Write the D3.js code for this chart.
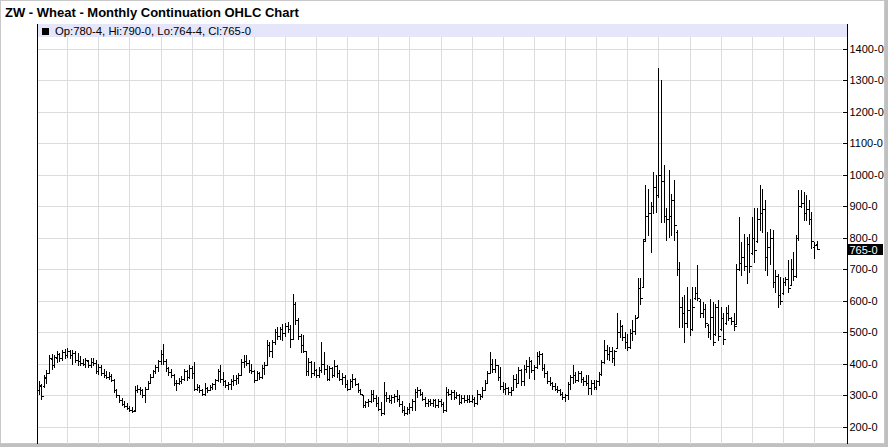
<!DOCTYPE html>
<html><head><meta charset="utf-8">
<script src="https://cdn.jsdelivr.net/npm/d3@7"></script>
<style>body{margin:0;background:#fff}svg{display:block}text{font-family:"Liberation Sans",Arial,sans-serif}</style>
</head><body><svg id="c" width="888" height="447"></svg>
<script>
// ---- data (monthly continuation, cents/bushel) ----
const startMonth = new Date(1988, 1, 1); // Feb 1988
const open = [
318,330,330,356,372,415,395,420,430,418,
438,428,442,428,435,414,408,404,400,410,
396,406,402,378,390,370,365,358,362,350,
318,300,285,274,266,260,255,254,318,322,
316,302,322,340,360,376,390,408,430,410,
386,374,366,340,338,346,352,376,360,388,
370,322,328,318,306,325,318,326,336,348,
378,352,345,332,336,345,350,355,366,405,
410,402,380,376,350,370,358,388,398,460,
440,468,500,488,510,498,520,510,480,590,
540,490,460,440,378,405,372,380,365,382,
400,385,352,388,365,392,370,352,360,335,
322,345,352,336,318,300,270,278,284,305,
292,275,258,245,300,292,285,294,298,290,
272,255,245,258,262,282,312,318,304,290,
276,282,275,285,270,284,272,255,312,305,
310,296,300,280,292,285,290,284,288,275,
305,298,318,340,372,400,385,395,360,330,
320,325,312,318,352,340,380,345,385,392,
410,382,390,425,432,388,370,345,340,330,
322,318,305,296,300,335,358,365,350,372,
352,345,340,325,340,328,345,368,405,445,
430,440,420,452,500,520,485,470,455,498,
505,550,640,645,795,870,880,900,960,935,
1000,980,870,860,870,920,818,700,580,560,
530,570,510,610,625,600,560,575,522,500,
550,495,580,510,545,530,560,545,535,528,
700,720,740,710,780,752,800,790,860,880,
890,740,770,800,660,680,620,625,660,668,
650,700,680,800,900,910,880,890,860,770,
780.5];
const high = [
345,335,364,380,427,430,428,440,436,445,
446,450,445,443,440,435,425,415,418,412,
418,418,411,401,398,385,378,374,369,353,
320,302,292,282,276,268,264,330,332,328,
322,327,345,369,380,395,411,443,464,417,
390,385,369,350,356,362,385,380,396,392,
406,335,332,322,338,327,332,340,353,385,
396,374,350,343,353,364,364,370,417,427,
427,411,400,380,378,374,395,406,475,470,
475,512,517,517,528,530,533,522,623,595,
544,494,491,442,420,410,406,385,390,470,
438,395,392,390,411,395,380,370,364,348,
353,369,356,338,322,302,284,290,316,316,
300,295,279,343,311,300,300,305,316,300,
284,268,263,275,290,322,327,322,310,294,
290,288,290,290,290,288,279,327,322,316,
316,311,306,300,300,302,300,300,295,316,
306,327,348,379,438,417,417,398,390,343,
338,327,327,364,369,390,385,395,411,422,
414,395,438,440,434,400,379,359,343,338,
330,322,311,305,343,364,395,374,379,379,
359,364,364,348,348,350,374,411,475,460,
454,454,443,560,538,522,500,496,512,538,
554,671,671,797,967,956,914,1009,998,1337,
1300,1030,893,1014,940,982,824,723,612,618,
644,607,644,644,713,606,596,591,525,607,
596,591,602,580,560,580,586,548,560,718,
866,787,813,803,813,866,893,893,967,956,
919,818,829,824,697,686,676,671,676,728,
734,755,808,951,951,945,935,919,882,787,
790];
const low = [
305,288,327,338,370,385,390,406,410,411,
420,422,418,400,405,395,395,395,390,390,
390,395,370,369,365,359,355,353,345,311,
295,279,270,262,256,250,246,252,311,306,
295,279,320,338,358,372,379,400,401,379,
364,360,332,316,335,338,348,350,355,355,
316,316,311,300,300,312,316,320,322,346,
343,332,328,322,322,332,336,340,364,390,
396,374,370,343,348,353,355,369,396,425,
422,464,480,480,475,490,501,454,478,528,
480,438,438,364,364,359,364,359,360,374,
369,348,350,359,362,359,348,335,327,316,
320,327,332,311,306,263,263,268,279,284,
268,253,237,242,284,279,276,280,284,268,
247,237,242,245,253,253,295,300,285,268,
268,270,268,263,263,268,247,252,300,290,
290,292,274,276,279,280,279,279,268,272,
290,295,316,338,370,374,374,350,322,311,
306,306,300,316,327,338,332,332,374,354,
374,353,388,401,380,360,338,332,322,316,
310,300,290,284,290,322,338,343,346,343,
332,332,306,306,322,322,332,366,404,415,
411,406,395,449,486,475,450,443,452,475,
496,549,591,644,792,808,755,877,882,929,
850,850,792,803,808,792,681,517,517,470,
517,491,507,607,602,549,549,517,486,480,
459,491,475,507,464,528,538,528,507,526,
697,681,697,655,692,750,723,787,824,818,
697,681,718,644,628,580,591,623,650,628,
649,665,676,792,898,855,855,845,766,737,
764.5];
const close = [
332,298,358,372,418,395,422,432,418,438,
428,442,428,436,414,408,404,400,412,396,
406,402,378,390,370,365,358,362,350,318,
300,285,274,266,260,255,252,318,322,316,
302,320,340,360,376,390,408,430,410,386,
374,366,340,338,346,352,376,360,388,370,
322,328,318,306,325,318,326,336,348,378,
352,345,332,336,345,350,355,366,405,410,
402,380,376,350,370,358,388,398,460,440,
468,500,488,510,498,520,510,480,590,540,
490,460,440,378,405,372,380,365,382,400,
385,352,388,365,392,370,352,360,335,322,
345,352,336,318,306,270,278,284,305,292,
275,258,245,300,292,285,294,298,290,272,
255,245,258,262,282,312,318,304,290,276,
282,275,285,270,284,272,255,312,305,310,
296,300,280,292,285,290,284,288,275,305,
298,318,340,372,400,385,395,360,330,320,
325,312,318,352,340,380,345,385,392,410,
382,390,425,432,388,370,345,340,330,322,
318,305,296,300,335,358,365,350,372,352,
345,340,325,340,328,345,368,405,445,430,
440,420,440,500,520,485,470,455,498,505,
545,640,610,790,870,880,900,960,935,1000,
980,870,860,870,920,840,700,580,560,530,
570,510,580,625,608,560,575,530,500,550,
470,580,490,545,480,560,545,535,520,700,
720,740,710,780,710,800,760,860,880,890,
740,770,800,660,680,620,600,660,668,640,
700,680,800,900,910,880,890,860,790,778,
765];
const yTickValues = [200,300,400,500,600,700,800,900,1000,1100,1200,1300,1400];
const chartTitle = "ZW - Wheat - Monthly Continuation OHLC Chart";

// ---- layout ----
const N = Math.min(open.length, high.length, low.length, close.length);
const L = 37, R = 847, T = 24, B = 444;
const svg = d3.select("#c");
const fmt8 = v => { const w = Math.floor(v); return w + "-" + Math.round((v - w) * 8); };
const months = d3.timeMonth.range(startMonth, d3.timeMonth.offset(startMonth, N));
const x = d3.scaleLinear().domain([0, 300]).range([39.2, 817.1]);
const y = d3.scaleLinear().domain([200, 1400]).range([427, 48.5]);

svg.append("rect").attr("width", 888).attr("height", 447).attr("fill", "#fff");
// outer frame
svg.append("rect").attr("x", 0.5).attr("y", 0.5).attr("width", 884).attr("height", 443)
  .attr("fill", "none").attr("stroke", "#c8c8c8");
svg.append("rect").attr("x", 885).attr("y", 0).attr("width", 3).attr("height", 447).attr("fill", "#c0c0c0");
svg.append("rect").attr("x", 0).attr("y", 444).attr("width", 888).attr("height", 3).attr("fill", "#c0c0c0");

svg.append("text").attr("x", 5).attr("y", 17).attr("font-size", 13).attr("font-weight", "bold")
  .attr("fill", "#000").text(chartTitle);

// grid
const g = svg.append("g").attr("shape-rendering", "crispEdges");
g.selectAll(".hg").data(yTickValues).join("line")
  .attr("x1", L).attr("x2", R - 5)
  .attr("y1", d => Math.round(y(d)) + 0.5).attr("y2", d => Math.round(y(d)) + 0.5)
  .attr("stroke", "#dcdcdc");
const jan = months.map((m, i) => m.getMonth() === 0 ? i : -1).filter(i => i >= 0);
g.selectAll(".vg").data(jan).join("line")
  .attr("x1", i => Math.floor(x(i)) + 0.5).attr("x2", i => Math.floor(x(i)) + 0.5)
  .attr("y1", T).attr("y2", B)
  .attr("stroke", "#dcdcdc");

// OHLC bars
const bars = svg.append("g").attr("shape-rendering", "crispEdges").attr("stroke", "#000")
  .attr("stroke-width", 1).attr("fill", "none");
bars.selectAll("path").data(d3.range(N)).join("path")
  .attr("d", i => {
    const px = Math.floor(x(i)) + 0.5;
    const yh = Math.round(y(high[i])), yl = Math.round(y(low[i]));
    const yo = Math.round(y(open[i])) + 0.5, yc = Math.round(y(close[i])) + 0.5;
    return `M${px},${yh}V${yl + 1}M${px - 2},${yo}H${px}M${px},${yc}H${px + 2}`;
  });

// legend bar
svg.append("rect").attr("x", L + 1).attr("y", T).attr("width", R - L - 1).attr("height", 13)
  .attr("fill", "#e6e6fa");
svg.append("rect").attr("x", 42).attr("y", 28).attr("width", 7).attr("height", 7).attr("fill", "#000");
const last = N - 1;
svg.append("text").attr("x", 55).attr("y", 35).attr("font-size", 11.3).attr("fill", "#000")
  .text(`Op:${fmt8(open[last])}, Hi:${fmt8(high[last])}, Lo:${fmt8(low[last])}, Cl:${fmt8(close[last])}`);

// axes lines
svg.append("line").attr("x1", L + 0.5).attr("x2", L + 0.5).attr("y1", T).attr("y2", B)
  .attr("stroke", "#000").attr("shape-rendering", "crispEdges");
svg.append("line").attr("x1", R + 0.5).attr("x2", R + 0.5).attr("y1", T).attr("y2", B)
  .attr("stroke", "#000").attr("shape-rendering", "crispEdges");

const axis = d3.axisRight(y).tickValues(yTickValues).tickFormat(d => d + "-0")
  .tickSizeInner(-5).tickSizeOuter(0).tickPadding(2);
const ag = svg.append("g").attr("transform", `translate(${R + 0.5},0.5)`).call(axis);
ag.select(".domain").remove();
ag.selectAll(".tick line").attr("stroke", "#000").attr("shape-rendering", "crispEdges");
ag.selectAll(".tick text").attr("font-size", 11).attr("fill", "#000")
  .attr("font-family", "Liberation Sans, Arial, sans-serif");
ag.selectAll(".tick").attr("transform", d => `translate(0,${Math.round(y(d))})`);

// last price label
const yl = Math.round(y(close[last]));
svg.append("rect").attr("x", R + 1).attr("y", yl - 5).attr("width", 35).attr("height", 11).attr("fill", "#000");
svg.append("text").attr("x", R + 2.5).attr("y", yl + 4.5).attr("font-size", 11).attr("fill", "#fff")
  .text(fmt8(close[last]));

if (N !== 301) svg.append("text").attr("x", 400).attr("y", 200).attr("fill", "red").text("len " + [open.length, high.length, low.length, close.length].join(","));
</script></body></html>
